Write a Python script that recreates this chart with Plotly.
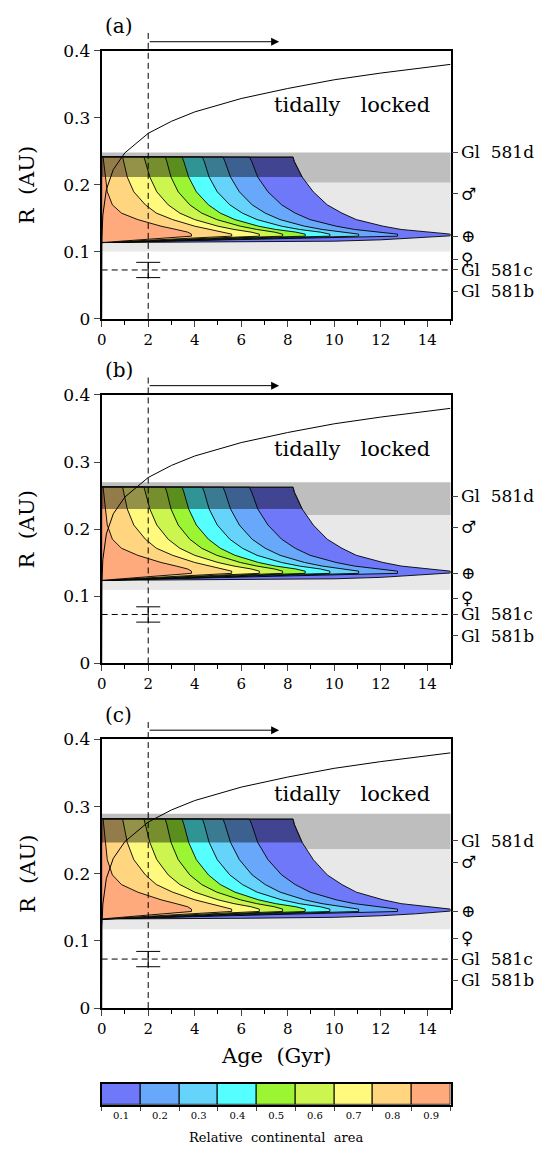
import plotly.graph_objects as go

# ---------------- data ----------------
continental_area = [0.1, 0.2, 0.3, 0.4, 0.5, 0.6, 0.7, 0.8, 0.9]
area_labels = ["0.1", "0.2", "0.3", "0.4", "0.5", "0.6", "0.7", "0.8", "0.9"]
area_colors = ["#7078FA", "#68A8FA", "#66D4FA", "#55FFFF", "#9CF532",
               "#CCF550", "#FFFA7D", "#FFD580", "#FFAA7D"]

panel_labels = ["(a)", "(b)", "(c)"]
hz_scale = [1.0, 1.087, 1.165]          # radial scaling of habitable zone per panel

# habitable-zone bands (panel a, AU)
hz_outer_band = [0.2034, 0.2484]
hz_inner_band = [0.1007, 0.2034]

# region edges: R levels (panel a, AU) and age (Gyr) of each region's right edge
edge_r = [0.2415, 0.235, 0.2117, 0.1897, 0.1702, 0.1579, 0.1482, 0.1384, 0.1335, 0.1295, 0.1265]
edge_x_01 = [8.23, 8.28, 8.62, 9.10, 9.70, 10.33, 10.95, 12.10, 12.88, 14.10, 15.00]
edge_x_02 = [6.35, 6.45, 6.71, 7.15, 7.74, 8.32, 8.96, 10.08, 10.87, 12.02, 12.72]
edge_x_03 = [5.22, 5.30, 5.54, 5.92, 6.47, 7.03, 7.67, 8.72, 9.48, 10.47, 11.05]
edge_x_04 = [4.33, 4.41, 4.62, 4.97, 5.51, 6.05, 6.68, 7.73, 8.50, 9.40, 9.81]
edge_x_05 = [3.46, 3.53, 3.74, 4.07, 4.59, 5.10, 5.73, 6.74, 7.48, 8.35, 8.75]
edge_x_06 = [2.73, 2.80, 2.98, 3.29, 3.79, 4.30, 4.95, 5.96, 6.67, 7.43, 7.78]
edge_x_07 = [1.82, 1.88, 2.07, 2.37, 2.86, 3.36, 4.00, 5.00, 5.69, 6.43, 6.78]
edge_x_08 = [0.90, 0.95, 1.10, 1.38, 1.88, 2.35, 3.05, 4.00, 4.70, 5.30, 5.59]
edge_x_09 = [0.06, 0.08, 0.15, 0.24, 0.46, 0.85, 1.55, 2.55, 3.20, 3.70, 3.86]
region_edges = [edge_x_01, edge_x_02, edge_x_03, edge_x_04, edge_x_05,
                edge_x_06, edge_x_07, edge_x_08, edge_x_09]
tongue_low_r = 0.1235
region_base_r = 0.1139
outer_low_x = [15.0, 13.5, 12.0, 10.0, 6.0, 0.0]
outer_low_r = [0.1240, 0.1205, 0.1180, 0.1160, 0.1148, 0.1139]
shade_r = [0.2117, 0.2415]

# tidal locking radius
tidal_age = [0, 0.002, 0.01, 0.05, 0.2, 0.5, 1, 2, 3, 4, 6, 8, 10, 12, 15]
tidal_r = [0, 0.094, 0.121, 0.155, 0.193, 0.223, 0.248, 0.277, 0.295, 0.309,
           0.329, 0.344, 0.357, 0.367, 0.380]

# Gl 581c with error bar
gl581c_age = 2.0
gl581c_r = 0.073
gl581c_err = 0.0114
age_arrow = [2.0, 7.63]

# right-hand labels
planet_names = ["Gl\u00a0\u00a0581d", "\u2642", "\u2295", "\u2640", "Gl\u00a0\u00a0581c", "Gl\u00a0\u00a0581b"]
gl581_r = {"d": 0.249, "c": 0.073, "b": 0.0415}
solar_r = {"mars": 0.1865, "earth": 0.1235, "venus": 0.089}

x_ticks = [0, 2, 4, 6, 8, 10, 12, 14]
y_ticks = [0, 0.1, 0.2, 0.3, 0.4]
y_ticklabels = ["0", "0.1", "0.2", "0.3", "0.4"]

# ---------------- figure ----------------
FONT = "DejaVu Serif"
fig = go.Figure()

xdom = [0.1821, 0.8390]
ydoms = [[0.72788, 0.96390], [0.42424, 0.66087], [0.12061, 0.35732]]

for i, s in enumerate(hz_scale):
    xa = "x" if i == 0 else f"x{i+1}"
    ya = "y" if i == 0 else f"y{i+1}"
    yr = f"y{i+4}"
    kw = dict(xaxis=xa, yaxis=ya, hoverinfo="skip", showlegend=False)

    # HZ bands
    fig.add_shape(type="rect", xref=f"{xa} domain", yref=ya, x0=0, x1=1,
                  y0=hz_outer_band[0] * s, y1=hz_outer_band[1] * s,
                  fillcolor="#bebebe", line_width=0, layer="below")
    fig.add_shape(type="rect", xref=f"{xa} domain", yref=ya, x0=0, x1=1,
                  y0=hz_inner_band[0] * s, y1=hz_inner_band[1] * s,
                  fillcolor="#e8e8e8", line_width=0, layer="below")

    # coloured regions, from 0.1 (largest) to 0.9 (smallest)
    for k, ex in enumerate(region_edges):
        if k == 0:
            px = [0, 0] + ex + outer_low_x
            py = [region_base_r, edge_r[0]] + edge_r + outer_low_r
        else:
            px = [0, 0] + ex + [ex[-1], 0]
            py = [region_base_r, edge_r[0]] + edge_r + [tongue_low_r, region_base_r]
        fig.add_trace(go.Scatter(x=px, y=[v * s for v in py], mode="lines",
                                 fill="toself", fillcolor=area_colors[k],
                                 line=dict(color="black", width=0.9), **kw))

    # dark shading in the upper strip
    n_sh = [j for j, r in enumerate(edge_r) if r >= shade_r[0]]
    sx = [0, 0] + [edge_x_01[j] for j in n_sh]
    sy = [shade_r[0], shade_r[1]] + [edge_r[j] for j in n_sh]
    fig.add_trace(go.Scatter(x=sx, y=[v * s for v in sy], mode="lines", fill="toself",
                             fillcolor="rgba(0,0,0,0.42)",
                             line=dict(color="rgba(20,20,20,0.9)", width=1), **kw))

    # tidal locking curve
    fig.add_trace(go.Scatter(x=tidal_age, y=tidal_r, mode="lines",
                             line=dict(color="black", width=1), **kw))

    # Gl 581c orbit with error bar
    fig.add_trace(go.Scatter(x=[gl581c_age], y=[gl581c_r], mode="markers",
                             marker=dict(size=1, color="rgba(0,0,0,0)"),
                             error_y=dict(type="data", array=[gl581c_err], symmetric=True,
                                          width=12, thickness=1, color="black"), **kw))
    fig.add_shape(type="line", xref=f"{xa} domain", yref=ya, x0=0, x1=1,
                  y0=gl581c_r, y1=gl581c_r, line=dict(color="black", width=1, dash="6px,4px"))
    fig.add_shape(type="line", xref=xa, yref=f"{ya} domain", x0=gl581c_age, x1=gl581c_age,
                  y0=0, y1=1.0675, line=dict(color="black", width=1, dash="6px,4px"))
    fig.add_annotation(xref=xa, yref=f"{ya} domain", x=age_arrow[1], y=1.0345,
                       axref=xa, ayref=f"{ya} domain", ax=age_arrow[0], ay=1.0345,
                       text="", showarrow=True, arrowhead=2, arrowsize=1.6,
                       arrowwidth=1, arrowcolor="black")

    # texts
    fig.add_annotation(xref=xa, yref=ya, x=10.75, y=0.319, xanchor="center", yanchor="middle",
                       text="tidally\u00a0\u00a0\u00a0locked", showarrow=False,
                       font=dict(family=FONT, size=21, color="black"))
    fig.add_annotation(xref=f"{xa} domain", yref=f"{ya} domain", x=0.049, y=1.0915,
                       xanchor="center", yanchor="middle",
                       text=panel_labels[i], showarrow=False,
                       font=dict(family=FONT, size=20, color="black"))
    fig.add_annotation(xref="paper", yref=f"{ya} domain", x=0.042, y=0.5,
                       xanchor="center", yanchor="middle",
                       text="R\u00a0\u00a0(AU)", textangle=-90, showarrow=False,
                       font=dict(family=FONT, size=21, color="black"))

    # axes
    fig.update_layout(**{
        ("xaxis" if i == 0 else f"xaxis{i+1}"): dict(
            domain=xdom, anchor=ya, range=[0, 15], tickvals=x_ticks,
            ticks="outside", ticklen=6, tickwidth=1, showline=True, linewidth=2,
            linecolor="black", mirror=True, showgrid=False, zeroline=False,
            minor=dict(dtick=1, ticks="outside", ticklen=4, tickwidth=1, tickcolor="black"),
            tickfont=dict(family=FONT, size=15, color="black"), fixedrange=True),
        ("yaxis" if i == 0 else f"yaxis{i+1}"): dict(
            domain=ydoms[i], anchor=xa, range=[0, 0.4], tickvals=y_ticks,
            ticktext=y_ticklabels, ticks="outside", ticklen=6, tickwidth=1,
            showline=True, linewidth=2, linecolor="black", mirror=True,
            showgrid=False, zeroline=False,
            tickfont=dict(family=FONT, size=17, color="black"), fixedrange=True),
        f"yaxis{i+4}": dict(
            overlaying=ya, anchor=xa, side="right", range=[0, 0.4],
            tickvals=[gl581_r["d"], solar_r["mars"] * s, solar_r["earth"] * s,
                      solar_r["venus"] * s, gl581_r["c"], gl581_r["b"]],
            ticktext=planet_names, ticks="outside", ticklen=6, tickwidth=1,
            showline=False, showgrid=False, zeroline=False,
            tickfont=dict(family=FONT, size=17, color="black"), fixedrange=True),
    })
    fig.add_trace(go.Scatter(x=[None], y=[None], xaxis=xa, yaxis=yr,
                             showlegend=False, hoverinfo="skip"))

fig.add_annotation(xref="x3 domain", yref="y3 domain", x=0.5, y=-0.177,
                   xanchor="center", yanchor="middle",
                   text="Age\u00a0\u00a0(Gyr)", showarrow=False,
                   font=dict(family=FONT, size=21, color="black"))

# colour bar
fig.add_trace(go.Bar(x=area_labels, y=[1] * len(area_labels), marker=dict(
    color=area_colors, line=dict(color="black", width=1)), xaxis="x4", yaxis="y7",
    showlegend=False, hoverinfo="skip"))
fig.update_layout(
    xaxis4=dict(domain=xdom, anchor="y7", type="category", tickson="boundaries",
                ticks="outside", ticklen=4, tickwidth=1, showline=True, linewidth=2,
                linecolor="black", mirror=True, showgrid=False,
                tickfont=dict(family=FONT, size=10, color="black"), fixedrange=True),
    yaxis7=dict(domain=[0.0355, 0.0539], anchor="x4", range=[0, 1], showticklabels=False,
                ticks="", showline=True, linewidth=2, linecolor="black", mirror=True,
                showgrid=False, zeroline=False, fixedrange=True),
    bargap=0,
)
fig.add_annotation(xref="x4 domain", yref="paper", x=0.5, y=0.0069,
                   xanchor="center", yanchor="middle",
                   text="Relative\u00a0\u00a0continental\u00a0\u00a0area", showarrow=False,
                   font=dict(family=FONT, size=13, color="black"))

fig.update_layout(width=536, height=1155, margin=dict(l=0, r=0, t=0, b=0),
                  autosize=False, paper_bgcolor="white", plot_bgcolor="white",
                  showlegend=False, hovermode=False)

fig.write_html("out.html", config={"responsive": False, "displayModeBar": False},
               post_script="document.body.style.margin='0px';"
                           "document.body.style.padding='0px';"
                           "var gd=document.getElementById('{plot_id}');"
                           "gd.style.position='absolute';gd.style.top='0px';gd.style.left='0px';"
                           "document.documentElement.style.overflow='hidden';")
